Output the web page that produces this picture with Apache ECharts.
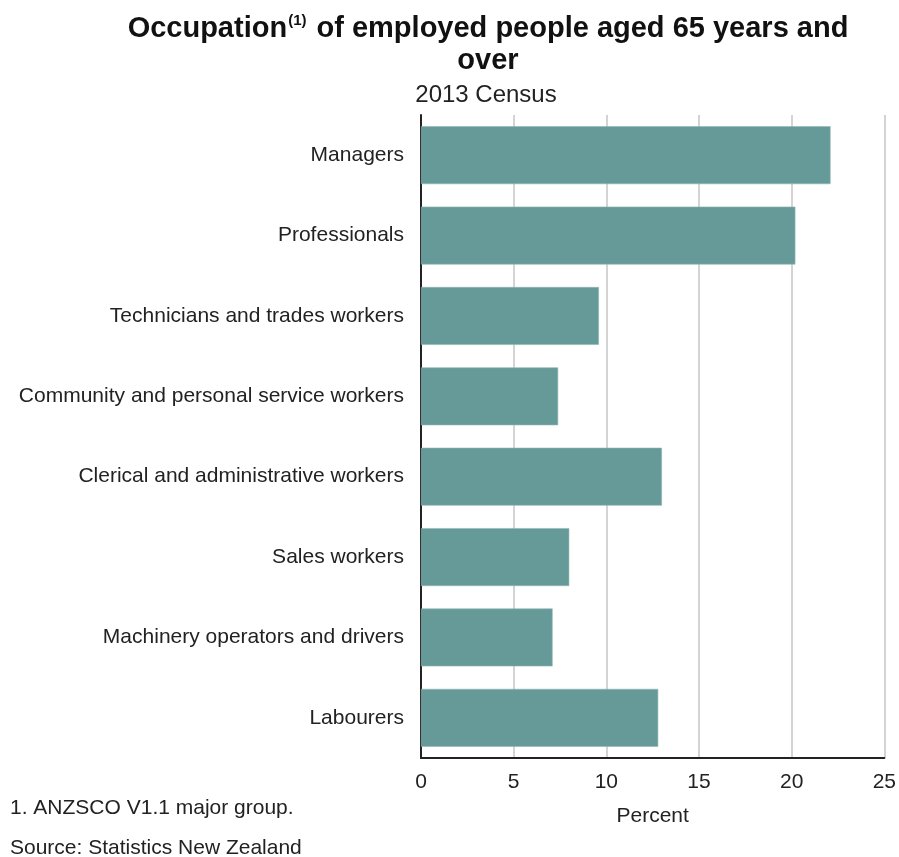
<!DOCTYPE html>
<html>
<head>
<meta charset="utf-8">
<script src="https://cdn.jsdelivr.net/npm/echarts@6/dist/echarts.min.js"></script>
<style>
  html, body { margin: 0; padding: 0; background: #fff; }
  #chart { width: 899px; height: 857px; }
</style>
</head>
<body>
<div id="chart"></div>
<script>
// Occupation groups, listed top to bottom
const categories = [
  'Managers',
  'Professionals',
  'Technicians and trades workers',
  'Community and personal service workers',
  'Clerical and administrative workers',
  'Sales workers',
  'Machinery operators and drivers',
  'Labourers'
];
// Share of employed people aged 65+ (percent)
const percentValues = [22.1, 20.2, 9.6, 7.4, 13.0, 8.0, 7.1, 12.8];
const xTicks = [0, 5, 10, 15, 20, 25];

const FONT = '"Liberation Sans", Arial, sans-serif';
const chart = echarts.init(document.getElementById('chart'), null, { renderer: 'canvas' });

chart.setOption({
  animation: false,
  backgroundColor: '#ffffff',
  textStyle: { fontFamily: FONT },
  title: [
    {
      text: '{b|Occupation}{sup|(1)}{b| of employed people aged 65 years and}\n{b|over}',
      left: 483,
      top: 8,
      textAlign: 'center',
      textStyle: {
        rich: {
          b: { fontFamily: FONT, fontWeight: 'bold', fontSize: 29, color: '#111', lineHeight: 32 },
          sup: { fontFamily: FONT, fontWeight: 'bold', fontSize: 15, color: '#111', lineHeight: 32, verticalAlign: 'top', padding: [0, 2, 12, 1] }
        }
      }
    },
    {
      text: '2013 Census',
      left: 481,
      top: 78,
      textAlign: 'center',
      textStyle: { fontFamily: FONT, fontWeight: 'normal', fontSize: 24, color: '#222' }
    }
  ],
  grid: { left: 421, right: 11, top: 115, bottom: 99, containLabel: false },
  xAxis: {
    type: 'value',
    min: xTicks[0],
    max: xTicks[xTicks.length - 1],
    interval: 5,
    name: 'Percent',
    nameLocation: 'middle',
    nameGap: 48,
    nameTextStyle: { fontFamily: FONT, fontSize: 21, color: '#222' },
    axisLine: { show: true, lineStyle: { color: '#222', width: 2 } },
    axisTick: { show: false },
    axisLabel: { fontFamily: FONT, fontSize: 21, color: '#222', margin: 14 },
    splitLine: { show: true, lineStyle: { color: '#d4d4d4', width: 2 } }
  },
  yAxis: {
    type: 'category',
    data: categories,
    inverse: true,
    axisLine: { show: true, lineStyle: { color: '#222', width: 2 } },
    axisTick: { show: false },
    axisLabel: { fontFamily: FONT, fontSize: 21, color: '#222', margin: 17 },
    splitLine: { show: false }
  },
  series: [{
    type: 'bar',
    data: percentValues,
    barCategoryGap: '28%',
    itemStyle: { color: '#669a99', borderColor: '#8fb5b4', borderWidth: 0.6 }
  }],
  graphic: [
    {
      type: 'text',
      left: 10,
      top: 798,
      style: { text: '1. ANZSCO V1.1 major group.', font: '21px ' + FONT, fill: '#222' }
    },
    {
      type: 'text',
      left: 10,
      top: 838,
      style: { text: 'Source: Statistics New Zealand', font: '21px ' + FONT, fill: '#222' }
    }
  ]
});
</script>
</body>
</html>
